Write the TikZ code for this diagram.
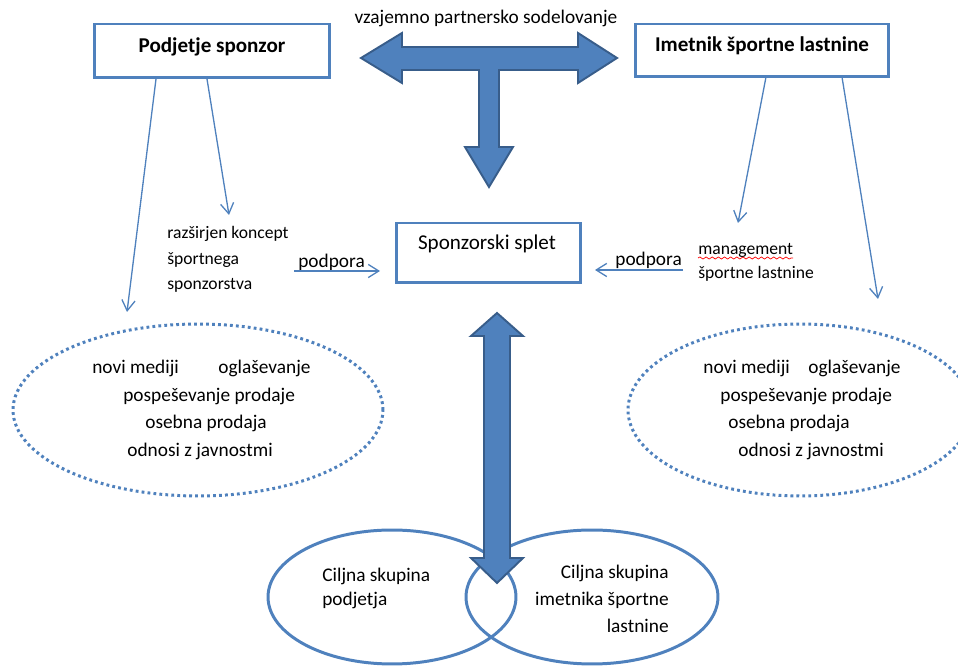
\documentclass[tikz,border=0pt]{standalone}
\usepackage{fontspec}
\setmainfont{Carlito}
\usetikzlibrary{arrows.meta,shapes.geometric,decorations.pathmorphing}
\definecolor{accent}{HTML}{4F81BD}
\definecolor{accentdark}{HTML}{385D8A}

\begin{document}
\begin{tikzpicture}[x=0.02cm,y=-0.02cm,
  box/.style={draw=accent, line width=1.7pt, fill=white, inner sep=0pt},
  thinarrow/.style={draw=accent, line width=0.75pt, -{Straight Barb[length=6pt,width=7.5pt]}},
  blockarrow/.style={fill=accent, draw=accentdark, line width=1.1pt, line join=miter},
  dotring/.style={ellipse, draw=accent, line width=1.7pt, dash pattern=on 1.6pt off 1.8pt, inner sep=0pt},
  ring/.style={ellipse, draw=accent, line width=1.7pt, inner sep=0pt},
  txt/.style={inner sep=0pt, anchor=base west, font=\fontsize{11}{13}\selectfont},
  smalltxt/.style={txt, font=\fontsize{10}{12}\selectfont},
  boxtxt/.style={inner sep=0pt, anchor=base, font=\bfseries\fontsize{12}{14}\selectfont},
]
\useasboundingbox (0,0) rectangle (958,668);

% top boxes
\node[box, minimum width=4.72cm, minimum height=1.08cm] (sponzor) at (212,51) {};
\node[boxtxt] (sponzortxt) at (212,53) {Podjetje sponzor};
\node[box, minimum width=5.06cm, minimum height=1.06cm] (imetnik) at (762,50.5) {};
\node[boxtxt] (imetniktxt) at (762,52) {Imetnik športne lastnine};

% centre box
\node[box, minimum width=3.7cm, minimum height=1.2cm] (splet) at (488.5,253) {};
\node[inner sep=0pt, anchor=base, font=\fontsize{12}{14}\selectfont] (splettxt) at (487,250) {Sponzorski splet};

% T-shaped block arrow
\node[inner sep=0pt, anchor=base, font=\fontsize{11}{13}\selectfont] (partner) at (486,24) {vzajemno partnersko sodelovanje};
\draw[blockarrow] (361,58) -- (402,33) -- (402,47) -- (578,47) -- (578,33) -- (617,58)
  -- (578,83) -- (578,70) -- (499,70) -- (499,147) -- (513,147) -- (489,187)
  -- (465,147) -- (479,147) -- (479,70) -- (402,70) -- (402,83) -- cycle;

% side texts
\node[smalltxt] (razs1) at (167,239) {razširjen koncept};
\node[smalltxt] (razs2) at (167,265) {športnega};
\node[smalltxt] (razs3) at (167,290) {sponzorstva};
\node[smalltxt] (mgmt1) at (698,255) {management};
\node[smalltxt] (mgmt2) at (698,279) {športne lastnine};
\draw[red, line width=0.4pt, decorate, decoration={snake, segment length=3.5pt, amplitude=0.6pt}]
  (mgmt1.base west) ++(0,3) coordinate (wavyA) -- ++(95,0) coordinate (wavyB);

% support arrows
\node[txt] (podporaL) at (298,268) {podpora};
\node[txt] (podporaR) at (615,266) {podpora};
\coordinate (plA) at (294,271);
\coordinate (plB) at (380,271);
\coordinate (prA) at (683,270);
\coordinate (prB) at (595,270);
\draw[thinarrow] (plA) -- (plB);
\draw[thinarrow] (prA) -- (prB);

% dotted rings of communication tools
\node[dotring, minimum width=7.4cm, minimum height=3.44cm] (toolsL) at (198,410) {};
\node[txt] (l1a) at (92,374) {novi mediji};
\node[txt] (l1b) at (218,374) {oglaševanje};
\node[txt] (l2) at (123,402) {pospeševanje prodaje};
\node[txt] (l3) at (145,429) {osebna prodaja};
\node[txt] (l4) at (127,457) {odnosi z javnostmi};

\node[dotring, minimum width=6.88cm, minimum height=3.44cm] (toolsR) at (800,410) {};
\node[txt] (r1a) at (703,374) {novi mediji};
\node[txt] (r1b) at (808,374) {oglaševanje};
\node[txt] (r2) at (720,402) {pospeševanje prodaje};
\node[txt] (r3) at (728,429) {osebna prodaja};
\node[txt] (r4) at (738,457) {odnosi z javnostmi};

% thin arrows from the top boxes
\coordinate (sA1) at (156,79);  \coordinate (sB1) at (127,312);
\coordinate (sA2) at (207,79);  \coordinate (sB2) at (229,215);
\coordinate (iA1) at (766,77);  \coordinate (iB1) at (738,223);
\coordinate (iA2) at (842,77);  \coordinate (iB2) at (878,299);
\draw[thinarrow] (sA1) -- (sB1);
\draw[thinarrow] (sA2) -- (sB2);
\draw[thinarrow] (iA1) -- (iB1);
\draw[thinarrow] (iA2) -- (iB2);

% target groups
\node[ring, minimum width=4.96cm, minimum height=2.68cm] (groupL) at (392,597) {};
\node[ring, minimum width=5.04cm, minimum height=2.68cm] (groupR) at (592,597) {};
\node[txt] (gl1) at (322,582) {Ciljna skupina};
\node[txt] (gl2) at (322,606) {podjetja};
\node[txt, anchor=base east] (gr1) at (669,579) {Ciljna skupina};
\node[txt, anchor=base east] (gr2) at (669,606) {imetnika športne};
\node[txt, anchor=base east] (gr3) at (669,633) {lastnine};

% vertical double block arrow
\draw[blockarrow] (497,313) -- (523,336) -- (510,336) -- (510,558) -- (523,558) -- (497,583)
  -- (471,558) -- (484,558) -- (484,336) -- (471,336) -- cycle;
\end{tikzpicture}
\end{document}
